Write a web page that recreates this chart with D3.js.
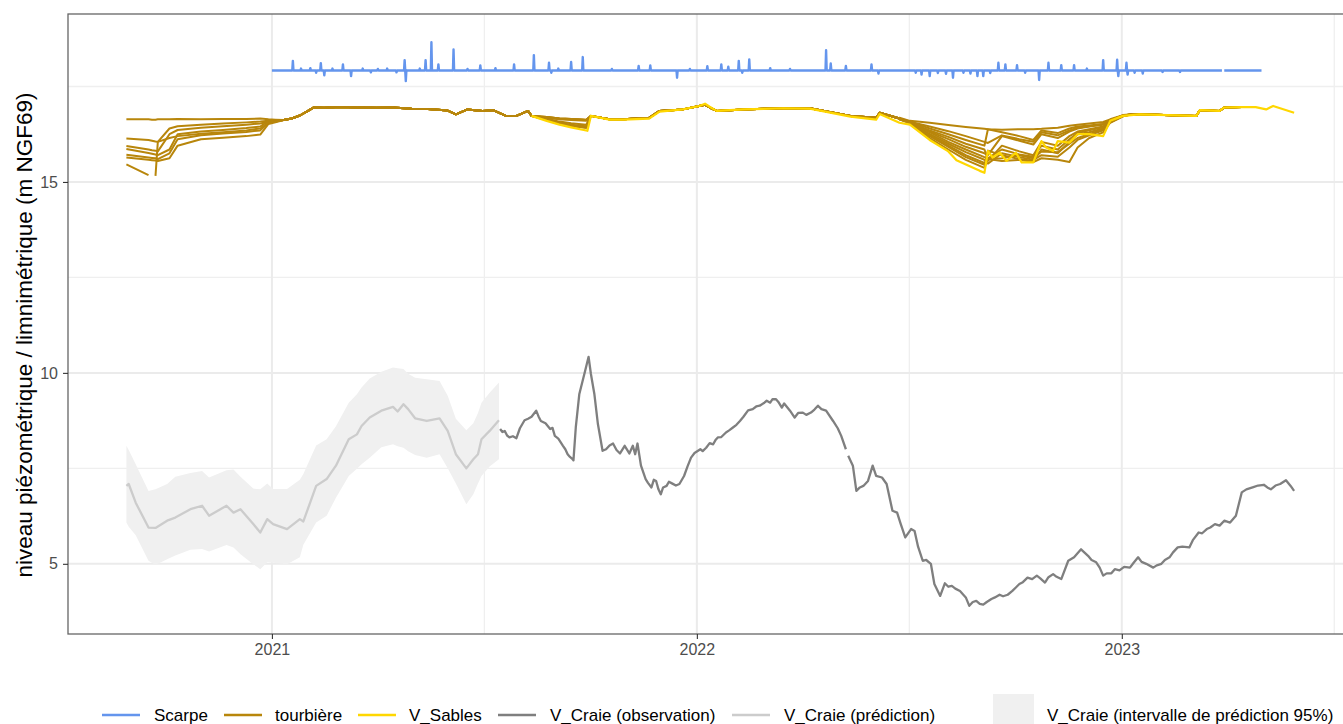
<!DOCTYPE html>
<html>
<head>
<meta charset="utf-8">
<script src="https://cdn.jsdelivr.net/npm/d3@7"></script>
<style>
  body { margin: 0; background: #fff; }
  svg { display: block; font-family: "Liberation Sans", Arial, sans-serif; }
</style>
</head>
<body>
<svg id="chart" width="1343" height="724"></svg>
<script>
// ---------- Scarpe (river level) ----------
const scarpeBase = 17.92;
const scarpeSegmentStarts = ["2021-01-01", "2023-03-30"];
const scarpeSegmentEnds   = ["2023-03-28", "2023-05-01"];
const scarpePeakDates = [
  "2021-01-19","2021-01-26","2021-02-03","2021-02-08","2021-02-12","2021-02-15","2021-02-22","2021-03-03",
  "2021-03-10","2021-03-20","2021-03-27","2021-04-02","2021-04-10","2021-04-18","2021-04-25","2021-04-26",
  "2021-05-08","2021-05-13","2021-05-18","2021-05-24","2021-06-06","2021-06-18","2021-06-29","2021-07-12",
  "2021-07-28","2021-08-14","2021-08-27","2021-08-29","2021-09-04","2021-09-15","2021-09-25","2021-10-20",
  "2021-11-12","2021-11-22","2021-12-15","2021-12-26","2022-01-10","2022-01-22","2022-01-28","2022-02-06",
  "2022-02-09","2022-02-15","2022-03-05","2022-03-22","2022-04-22","2022-04-26","2022-05-09","2022-05-31",
  "2022-06-06","2022-07-08","2022-07-13","2022-07-20","2022-07-27","2022-08-03","2022-08-09","2022-08-18",
  "2022-08-24","2022-08-30","2022-09-04","2022-09-10","2022-09-17","2022-09-23","2022-10-03","2022-10-10",
  "2022-10-22","2022-10-30","2022-11-10","2022-11-21","2022-12-02","2022-12-16","2022-12-28","2022-12-29",
  "2023-01-05","2023-01-06","2023-01-12","2023-01-19","2023-02-05","2023-02-20"
];
const scarpePeakValues = [
  18.17,17.97,17.98,17.86,18.11,17.79,17.97,18.08,
  17.77,17.97,17.87,17.96,17.97,17.87,18.19,17.64,
  17.97,18.19,18.66,18.08,18.47,17.96,18.05,17.98,
  18.08,18.32,18.12,17.86,17.97,18.14,18.27,17.96,
  18.04,18.05,17.73,17.96,18.03,18.08,18.02,18.17,
  17.86,18.21,17.98,17.96,18.45,18.10,18.04,18.08,
  17.84,17.86,17.81,17.77,17.85,17.83,17.73,17.86,
  17.84,17.77,17.77,17.85,18.12,18.08,18.06,17.86,
  17.67,18.12,18.06,18.06,17.97,18.19,18.20,17.77,
  18.12,17.81,17.86,17.84,17.88,17.88
];

// ---------- tourbière (peat piezometers) ----------
// Early records (only the first seven piezometers were installed in 2020)
const tour2020Dates = ["2020-08-29","2020-09-17","2020-09-20","2020-09-23","2020-09-25","2020-10-05","2020-10-12",
  "2020-11-01","2020-11-20","2020-12-10","2020-12-22","2020-12-29","2021-01-04","2021-01-11"];
const tour2020Values = [
  [16.64,16.64,16.63,16.63,16.64,16.64,16.65,16.64,16.65,16.65,16.66,16.64,16.63,16.62],
  [16.14,16.10,16.08,16.06,16.05,16.40,16.46,16.50,16.53,16.56,16.58,16.60,16.60,16.62],
  [15.94,15.85,15.83,15.82,15.80,16.25,16.36,16.42,16.46,16.50,16.53,16.58,16.60,16.62],
  [15.86,15.76,15.74,15.72,15.70,15.85,16.25,16.32,16.36,16.41,16.45,16.60,16.60,16.62],
  [15.71,15.64,15.63,15.62,15.60,15.75,16.12,16.22,16.27,16.31,16.35,16.55,16.58,16.62],
  [15.64,15.58,15.57,15.56,15.55,15.62,15.95,16.12,16.16,16.20,16.24,16.52,16.56,16.62],
  [15.46,15.18,null,15.16,16.05,16.15,16.20,16.26,16.30,16.35,16.40,16.55,16.58,16.62]
];
const tourSpring21Dates = ["2021-01-11","2021-01-18","2021-01-25","2021-02-01","2021-02-06","2021-02-15","2021-03-01",
  "2021-03-15","2021-04-01","2021-04-15","2021-05-01","2021-05-15","2021-06-01","2021-06-08","2021-06-18",
  "2021-07-01","2021-07-10","2021-07-21","2021-07-30","2021-08-09","2021-08-12"];
const tourSpring21Values = [16.62,16.66,16.74,16.86,16.95,16.94,16.96,16.95,16.94,16.95,16.92,16.91,16.87,16.77,16.90,
  16.86,16.88,16.73,16.73,16.86,16.73];
const tour2021Dates = ["2021-08-12","2021-08-25","2021-09-05","2021-09-15","2021-09-28","2021-10-02"];
const tour2021Values = [
  [16.73,16.70,16.66,16.65,16.62,16.73],
  [16.73,16.70,16.66,16.65,16.63,16.73],
  [16.73,16.69,16.65,16.64,16.62,16.73],
  [16.73,16.70,16.66,16.65,16.62,16.73],
  [16.73,16.62,16.52,16.47,16.42,16.73],
  [16.73,16.63,16.53,16.48,16.43,16.73],
  [16.73,16.62,16.52,16.47,16.42,16.73],
  [16.73,16.69,16.64,16.62,16.60,16.73],
  [16.73,16.66,16.58,16.54,16.50,16.73],
  [16.73,16.64,16.55,16.50,16.46,16.73]
];
const tourWinter22Dates = ["2021-10-02","2021-10-18","2021-10-30","2021-11-21","2021-11-30","2021-12-20","2022-01-03",
  "2022-01-08","2022-01-12","2022-01-18","2022-02-10","2022-03-16","2022-04-08","2022-05-13","2022-06-04",
  "2022-06-07","2022-06-24"];
const tourWinter22Values = [16.73,16.64,16.64,16.68,16.86,16.90,16.99,17.02,16.95,16.86,16.90,16.93,16.93,16.73,16.68,
  16.81,16.66];
const tour2022Dates = ["2022-06-24","2022-07-03","2022-07-20","2022-08-05","2022-08-20","2022-09-05","2022-09-08",
  "2022-09-20","2022-10-05","2022-10-17","2022-10-24","2022-11-07","2022-11-17","2022-11-24","2022-12-04",
  "2022-12-16","2022-12-22","2023-01-02","2023-01-10"];
const tour2022Values = [
  [16.68,16.60,16.55,16.49,16.44,16.39,16.38,16.37,16.38,16.38,16.39,16.42,16.47,16.50,16.53,16.57,16.64,16.75,16.77],
  [16.66,16.58,16.40,16.25,16.10,15.95,16.38,16.30,16.20,16.10,16.35,16.28,16.40,16.45,16.48,16.52,16.62,16.74,16.77],
  [16.66,16.57,16.32,16.12,15.92,15.75,15.70,16.20,16.08,15.98,16.25,16.15,16.32,16.40,16.45,16.50,16.62,16.74,16.77],
  [16.65,16.56,16.25,16.00,15.78,15.58,15.55,15.95,15.80,15.70,16.05,15.95,16.20,16.32,16.38,16.45,16.60,16.73,16.77],
  [16.65,16.55,16.20,15.92,15.65,15.45,15.82,15.70,15.60,15.55,15.85,15.75,16.05,16.25,16.30,16.40,16.58,16.73,16.77],
  [16.64,16.54,16.15,15.85,15.58,15.37,15.60,15.55,15.58,15.52,15.62,15.58,15.52,15.90,16.15,16.30,16.55,16.72,16.77],
  [16.65,16.56,16.35,16.18,16.00,15.85,15.60,15.62,15.70,15.62,15.80,15.78,16.00,16.15,16.25,16.38,16.57,16.73,16.77],
  [16.66,16.58,16.45,16.33,16.20,16.05,16.02,16.22,16.12,16.05,16.30,16.22,16.35,16.42,16.46,16.52,16.62,16.74,16.77],
  [16.65,16.56,16.30,16.05,15.85,15.65,15.62,15.85,15.72,15.66,15.95,15.85,16.12,16.28,16.35,16.43,16.59,16.73,16.77],
  [16.64,16.54,16.22,15.95,15.70,15.50,15.48,15.75,15.65,15.58,15.70,15.66,15.90,16.10,16.22,16.35,16.56,16.72,16.77]
];
const tourSpring23Dates = ["2023-01-10","2023-01-16","2023-03-06","2023-03-09","2023-03-26","2023-03-30","2023-04-14","2023-04-26"];
const tourSpring23Values = [16.77,16.77,16.73,16.88,16.86,16.95,16.96,16.96];

// ---------- V_Sables ----------
const sablesDates = ["2021-08-12","2021-08-25","2021-09-05","2021-09-15","2021-09-29","2021-10-02","2021-10-18",
  "2021-10-30","2021-11-21","2021-11-30","2021-12-20","2022-01-03","2022-01-08","2022-01-12","2022-01-18",
  "2022-02-10","2022-03-16","2022-04-08","2022-05-13","2022-06-04","2022-06-07","2022-06-24","2022-07-03",
  "2022-07-20","2022-08-05","2022-08-12","2022-09-01","2022-09-05","2022-09-08","2022-09-12","2022-09-18",
  "2022-09-24","2022-10-02","2022-10-07","2022-10-17","2022-10-24","2022-10-28","2022-11-03","2022-11-07",
  "2022-11-17","2022-11-24","2022-12-04","2022-12-16","2022-12-22","2023-01-02","2023-01-16","2023-03-06",
  "2023-03-09","2023-03-26","2023-03-30","2023-04-14","2023-04-26","2023-05-05","2023-05-11","2023-05-29"];
const sablesValues = [16.73,16.60,16.50,16.43,16.34,16.73,16.63,
  16.63,16.66,16.84,16.90,16.99,17.05,16.97,16.86,
  16.90,16.93,16.92,16.71,16.63,16.78,16.55,16.50,
  16.10,15.80,15.57,15.29,15.24,15.81,15.64,15.77,
  15.55,15.77,15.51,15.51,16.07,15.90,15.81,16.07,
  16.03,16.25,16.25,16.20,16.60,16.73,16.77,16.73,
  16.88,16.86,16.95,16.96,16.96,16.90,16.99,16.81];

// ---------- V_Craie : observation ----------
const craieObsDates = [
  "2021-07-16","2021-07-18","2021-07-20","2021-07-22","2021-07-24","2021-07-27","2021-07-30","2021-08-02",
  "2021-08-06","2021-08-09","2021-08-12","2021-08-14","2021-08-16","2021-08-18","2021-08-20","2021-08-24",
  "2021-08-28","2021-08-30","2021-09-01","2021-09-04","2021-09-08","2021-09-10","2021-09-12","2021-09-14",
  "2021-09-16","2021-09-17","2021-09-19","2021-09-22","2021-09-27","2021-09-30","2021-10-02","2021-10-05",
  "2021-10-08","2021-10-12","2021-10-15","2021-10-18","2021-10-21","2021-10-24","2021-10-27","2021-10-31",
  "2021-11-04","2021-11-07","2021-11-09","2021-11-11","2021-11-14","2021-11-18","2021-11-20","2021-11-23",
  "2021-11-25","2021-11-27","2021-11-29","2021-12-01","2021-12-03","2021-12-06","2021-12-08","2021-12-11",
  "2021-12-14","2021-12-17","2021-12-21","2021-12-24","2021-12-27","2021-12-30","2022-01-04","2022-01-06",
  "2022-01-09","2022-01-12","2022-01-15","2022-01-17","2022-01-19","2022-01-22","2022-01-26","2022-01-29",
  "2022-02-01","2022-02-04","2022-02-07","2022-02-10","2022-02-14","2022-02-18","2022-02-21","2022-02-24",
  "2022-02-28","2022-03-02","2022-03-05","2022-03-07","2022-03-10","2022-03-12","2022-03-15","2022-03-17",
  "2022-03-22","2022-03-26","2022-03-29","2022-04-02","2022-04-05","2022-04-09","2022-04-12","2022-04-15",
  "2022-04-18","2022-04-22","2022-04-28","2022-05-02","2022-05-05","2022-05-09","2022-05-10","2022-05-11",
  "2022-05-15","2022-05-18","2022-05-21","2022-05-24","2022-05-28","2022-06-01","2022-06-04","2022-06-09",
  "2022-06-13","2022-06-18","2022-06-22","2022-06-25","2022-06-29","2022-07-04","2022-07-07","2022-07-10",
  "2022-07-14","2022-07-17","2022-07-21","2022-07-24","2022-07-29","2022-08-02","2022-08-05","2022-08-08",
  "2022-08-11","2022-08-15","2022-08-20","2022-08-23","2022-08-26","2022-08-29","2022-09-01","2022-09-04",
  "2022-09-07","2022-09-11","2022-09-14","2022-09-18","2022-09-21","2022-09-25","2022-09-29","2022-10-02",
  "2022-10-05","2022-10-08","2022-10-12","2022-10-16","2022-10-20","2022-10-23","2022-10-27","2022-10-30",
  "2022-11-03","2022-11-06","2022-11-10","2022-11-16","2022-11-21","2022-11-27","2022-12-03","2022-12-06",
  "2022-12-10","2022-12-13","2022-12-16","2022-12-19","2022-12-23","2022-12-26","2022-12-30","2023-01-03",
  "2023-01-08","2023-01-11","2023-01-15","2023-01-18","2023-01-22","2023-01-28","2023-01-31","2023-02-04",
  "2023-02-07","2023-02-11","2023-02-14","2023-02-18","2023-02-22","2023-02-28","2023-03-03","2023-03-08",
  "2023-03-11","2023-03-15","2023-03-18","2023-03-22","2023-03-26","2023-03-30","2023-04-04","2023-04-09",
  "2023-04-14","2023-04-18","2023-04-24","2023-04-28","2023-05-03","2023-05-06","2023-05-09","2023-05-13",
  "2023-05-17","2023-05-22","2023-05-26","2023-05-29"];
const craieObsValues = [
  8.53,8.45,8.48,8.36,8.31,8.34,8.29,8.55,
  8.76,8.80,8.85,8.93,9.01,8.86,8.74,8.68,
  8.53,8.56,8.35,8.28,8.09,8.00,7.87,7.80,
  7.75,7.71,8.57,9.44,10.05,10.42,9.97,9.44,
  8.66,7.96,8.00,8.10,8.15,7.98,7.89,8.09,
  7.89,8.09,7.87,8.15,7.57,7.22,7.12,7.00,
  7.20,7.17,6.95,6.82,7.00,7.04,7.15,7.10,
  7.05,7.09,7.30,7.55,7.78,7.90,8.00,7.95,
  8.04,8.16,8.13,8.24,8.31,8.32,8.44,8.50,
  8.57,8.64,8.74,8.85,9.02,9.05,9.12,9.14,
  9.22,9.27,9.22,9.31,9.31,9.24,9.09,9.20,
  9.01,8.83,8.95,8.96,8.90,8.96,9.04,9.14,
  9.05,9.01,8.74,8.55,8.35,8.00,null,7.83,
  7.57,6.91,7.00,7.04,7.17,7.57,7.30,7.26,
  7.09,6.39,6.34,6.05,5.69,5.91,5.86,5.45,
  5.08,5.10,5.00,4.47,4.16,4.49,4.40,4.42,
  4.35,4.29,4.12,3.90,4.00,4.03,3.95,3.93,
  4.00,4.08,4.12,4.19,4.15,4.19,4.29,4.38,
  4.47,4.52,4.64,4.60,4.69,4.62,4.51,4.65,
  4.73,4.66,4.60,5.08,5.17,5.38,5.21,5.10,
  5.04,4.90,4.69,4.75,4.75,4.86,4.83,4.92,
  4.90,5.02,5.17,5.05,5.00,4.90,4.96,5.00,
  5.10,5.17,5.30,5.43,5.45,5.43,5.62,5.82,
  5.80,5.91,5.95,6.04,6.00,6.13,6.08,6.26,
  6.87,6.95,7.01,7.05,7.07,7.00,6.95,7.05,
  7.09,7.19,7.04,6.91];

// ---------- V_Craie : prediction and 95 % interval ----------
const craiePredDates = ["2020-08-29","2020-08-31","2020-09-06","2020-09-17","2020-09-23","2020-10-03","2020-10-10",
  "2020-10-23","2020-11-02","2020-11-08","2020-11-23","2020-11-29","2020-12-05","2020-12-16","2020-12-22",
  "2020-12-28","2021-01-02","2021-01-14","2021-01-25","2021-01-28","2021-02-08","2021-02-17","2021-02-25",
  "2021-03-08","2021-03-15","2021-03-19","2021-03-26","2021-04-05","2021-04-15","2021-04-19","2021-04-24",
  "2021-04-28","2021-05-04","2021-05-14","2021-05-25","2021-06-01","2021-06-08","2021-06-17","2021-06-23",
  "2021-06-27","2021-06-30","2021-07-07","2021-07-15"];
const craiePredValues = [7.04,7.09,6.60,5.95,5.94,6.13,6.21,
  6.43,6.52,6.26,6.52,6.34,6.43,6.04,5.82,
  6.17,6.04,5.91,6.17,6.11,7.04,7.22,7.57,
  8.26,8.39,8.61,8.83,9.01,9.11,8.99,9.18,
  9.05,8.81,8.74,8.81,8.48,7.87,7.50,7.74,
  7.87,8.26,8.48,8.76];
const craieLowerValues = [6.08,5.97,5.75,5.08,4.97,5.12,5.22,
  5.37,5.39,5.32,5.49,5.43,5.25,4.99,4.86,
  5.04,5.03,4.99,5.17,5.50,6.08,6.26,6.73,
  7.30,7.49,7.61,7.78,8.05,8.13,8.08,8.04,
  7.95,7.85,7.78,7.87,7.50,7.10,6.56,6.82,
  7.10,7.30,7.55,7.74];
const craieUpperValues = [8.09,7.98,7.61,6.91,6.95,7.09,7.28,
  7.38,7.43,7.26,7.45,7.47,7.28,6.97,6.95,
  7.10,6.96,6.96,7.20,7.35,8.10,8.26,8.60,
  9.22,9.44,9.62,9.85,10.03,10.14,10.12,10.10,
  9.98,9.87,9.83,9.79,9.40,8.80,8.50,8.68,
  8.95,9.22,9.48,9.75];

// ---------- axes and legend ----------
const yTickValues = [5, 10, 15];
const yMinorValues = [7.5, 12.5, 17.5];
const xTickYears = [2021, 2022, 2023];
const yTitle = "niveau piézométrique / limnimétrique (m NGF69)";
const legendLabels = ["Scarpe", "tourbière", "V_Sables", "V_Craie (observation)", "V_Craie (prédiction)",
  "V_Craie (intervalle de prédiction 95%)"];
const colors = {
  scarpe: "#6495ED", tourbiere: "#B8860B", sables: "#FFD700",
  obs: "#7F7F7F", pred: "#CCCCCC", band: "#F0F0F0"
};

// ---------- build series ----------
const parse = d3.timeParse("%Y-%m-%d");
const zip = (dates, vals) => dates.map((d, i) => ({ date: parse(d), value: vals[i] }));
const HALF_DAY = 43200000;

const scarpePoints = [];
scarpeSegmentStarts.forEach((s, k) => {
  const start = parse(s), end = parse(scarpeSegmentEnds[k]);
  if (k > 0) scarpePoints.push({ date: new Date(+start - HALF_DAY), value: null });
  scarpePoints.push({ date: start, value: scarpeBase });
  scarpePeakDates.forEach((p, i) => {
    const d = parse(p);
    if (d > start && d < end) {
      scarpePoints.push({ date: new Date(+d - HALF_DAY), value: scarpeBase });
      scarpePoints.push({ date: d, value: scarpePeakValues[i] });
      scarpePoints.push({ date: new Date(+d + HALF_DAY), value: scarpeBase });
    }
  });
  scarpePoints.push({ date: end, value: scarpeBase });
});
scarpePoints.sort((a, b) => a.date - b.date);

// one path per piezometer; those installed later have no 2020 segment
const tourLines = tour2022Values.map((v22, i) => [].concat(
  tour2020Values[i] ? zip(tour2020Dates, tour2020Values[i]) : [],
  zip(tourSpring21Dates, tourSpring21Values),
  zip(tour2021Dates, tour2021Values[i]),
  zip(tourWinter22Dates, tourWinter22Values),
  zip(tour2022Dates, v22),
  zip(tourSpring23Dates, tourSpring23Values)
));
const sablesLine = zip(sablesDates, sablesValues);
const obsLine = zip(craieObsDates, craieObsValues);
const predLine = zip(craiePredDates, craiePredValues);
const bandData = craiePredDates.map((d, i) => ({ date: parse(d), lo: craieLowerValues[i], hi: craieUpperValues[i] }));

// ---------- scales (5 % expansion on each side) ----------
const panel = { left: 68, right: 1352.5, top: 14, bottom: 634 };
const allPoints = [].concat(scarpePoints, ...tourLines, sablesLine, obsLine, predLine);
const dExt = d3.extent(allPoints, p => p.date);
const vals = allPoints.filter(p => p.value != null).map(p => p.value)
  .concat(craieLowerValues, craieUpperValues);
const vExt = d3.extent(vals);
const dPad = (dExt[1] - dExt[0]) * 0.05, vPad = (vExt[1] - vExt[0]) * 0.05;
const x = d3.scaleTime().domain([new Date(+dExt[0] - dPad), new Date(+dExt[1] + dPad)])
  .range([panel.left, panel.right]);
const y = d3.scaleLinear().domain([vExt[0] - vPad, vExt[1] + vPad]).range([panel.bottom, panel.top]);

// ---------- drawing ----------
const svg = d3.select("#chart");
svg.append("rect").attr("width", 1343).attr("height", 724).attr("fill", "#fff");

svg.append("defs").append("clipPath").attr("id", "panel-clip")
  .append("rect").attr("x", panel.left).attr("y", panel.top)
  .attr("width", panel.right - panel.left).attr("height", panel.bottom - panel.top);

const grid = svg.append("g");
const yearDates = d3.range(2020, 2025).map(yr => new Date(yr, 0, 1));
const xMinor = d3.pairs(yearDates, (a, b) => new Date((+a + +b) / 2))
  .filter(d => d >= x.domain()[0] && d <= x.domain()[1]);
const xMajor = xTickYears.map(yr => new Date(yr, 0, 1));

grid.selectAll(".xminor").data(xMinor).join("line")
  .attr("x1", d => x(d)).attr("x2", d => x(d)).attr("y1", panel.top).attr("y2", panel.bottom)
  .attr("stroke", "#EFEFEF").attr("stroke-width", 1.3);
grid.selectAll(".yminor").data(yMinorValues).join("line")
  .attr("x1", panel.left).attr("x2", panel.right).attr("y1", d => y(d)).attr("y2", d => y(d))
  .attr("stroke", "#EFEFEF").attr("stroke-width", 1.3);
grid.selectAll(".xmajor").data(xMajor).join("line")
  .attr("x1", d => x(d)).attr("x2", d => x(d)).attr("y1", panel.top).attr("y2", panel.bottom)
  .attr("stroke", "#EBEBEB").attr("stroke-width", 2);
grid.selectAll(".ymajor").data(yTickValues).join("line")
  .attr("x1", panel.left).attr("x2", panel.right).attr("y1", d => y(d)).attr("y2", d => y(d))
  .attr("stroke", "#EBEBEB").attr("stroke-width", 2);

const plot = svg.append("g").attr("clip-path", "url(#panel-clip)");

plot.append("path").datum(bandData)
  .attr("fill", colors.band)
  .attr("d", d3.area().x(d => x(d.date)).y0(d => y(d.lo)).y1(d => y(d.hi)));

const line = d3.line().defined(d => d.value != null).x(d => x(d.date)).y(d => y(d.value));

plot.append("path").datum(scarpePoints)
  .attr("fill", "none").attr("stroke", colors.scarpe).attr("stroke-width", 2.4)
  .attr("stroke-linejoin", "round").attr("d", line);

plot.selectAll(".tour").data(tourLines).join("path")
  .attr("fill", "none").attr("stroke", colors.tourbiere).attr("stroke-width", 2)
  .attr("stroke-linejoin", "round").attr("d", line);

plot.append("path").datum(sablesLine)
  .attr("fill", "none").attr("stroke", colors.sables).attr("stroke-width", 2.2)
  .attr("stroke-linejoin", "round").attr("d", line);

plot.append("path").datum(obsLine)
  .attr("fill", "none").attr("stroke", colors.obs).attr("stroke-width", 2.3)
  .attr("stroke-linejoin", "round").attr("d", line);

plot.append("path").datum(predLine)
  .attr("fill", "none").attr("stroke", colors.pred).attr("stroke-width", 2.3)
  .attr("stroke-linejoin", "round").attr("d", line);

// panel border
svg.append("rect").attr("x", panel.left).attr("y", panel.top)
  .attr("width", panel.right - panel.left).attr("height", panel.bottom - panel.top)
  .attr("fill", "none").attr("stroke", "#666").attr("stroke-width", 1.3);

// axes
const xAxis = d3.axisBottom(x).tickValues(xMajor).tickFormat(d3.timeFormat("%Y")).tickSize(5).tickPadding(5);
const gx = svg.append("g").attr("transform", `translate(0,${panel.bottom})`).call(xAxis);
gx.select(".domain").remove();
gx.selectAll(".tick line").attr("stroke", "#333").attr("stroke-width", 1.1);
gx.selectAll(".tick text").attr("fill", "#4D4D4D").style("font-size", "16px")
  .style("font-family", "'Liberation Sans', Arial, sans-serif");

const yAxis = d3.axisLeft(y).tickValues(yTickValues).tickSize(5).tickPadding(5);
const gy = svg.append("g").attr("transform", `translate(${panel.left},0)`).call(yAxis);
gy.select(".domain").remove();
gy.selectAll(".tick line").attr("stroke", "#333").attr("stroke-width", 1.1);
gy.selectAll(".tick text").attr("fill", "#4D4D4D").style("font-size", "16px")
  .style("font-family", "'Liberation Sans', Arial, sans-serif");

svg.append("text")
  .attr("transform", "translate(32,335) rotate(-90)")
  .attr("text-anchor", "middle").attr("fill", "#000").style("font-size", "22.5px")
  .text(yTitle);

// legend
const legendY = 715;
const legendItems = [
  { label: legendLabels[0], color: colors.scarpe, kx: 100, tx: 154, type: "line" },
  { label: legendLabels[1], color: colors.tourbiere, kx: 222, tx: 275, type: "line" },
  { label: legendLabels[2], color: colors.sables, kx: 356, tx: 409, type: "line" },
  { label: legendLabels[3], color: colors.obs, kx: 496, tx: 550, type: "line" },
  { label: legendLabels[4], color: colors.pred, kx: 730, tx: 784, type: "line" },
  { label: legendLabels[5], color: colors.band, kx: 993, tx: 1047, type: "fill" }
];
const lg = svg.append("g");
legendItems.forEach(it => {
  if (it.type === "line") {
    lg.append("line").attr("x1", it.kx + 2).attr("x2", it.kx + 40)
      .attr("y1", legendY).attr("y2", legendY)
      .attr("stroke", it.color).attr("stroke-width", 2.6);
  } else {
    lg.append("rect").attr("x", it.kx).attr("y", legendY - 21).attr("width", 41).attr("height", 44)
      .attr("fill", it.color);
  }
  lg.append("text").attr("x", it.tx).attr("y", legendY + 5.5)
    .attr("fill", "#000").style("font-size", "17px").text(it.label);
});
</script>
</body>
</html>
